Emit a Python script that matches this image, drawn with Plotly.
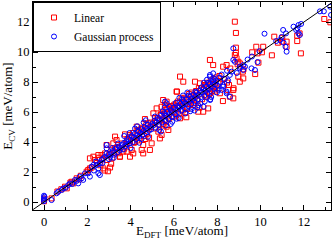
import plotly.graph_objects as go

# ---- data (E_DFT, E_CV) in meV/atom ----
lin_low = [(0.00,0.05),(0.02,0.22),(0.35,0.24),(0.62,0.70),(0.80,0.85),(0.97,1.02),(1.05,0.91),(1.22,1.30),
           (1.28,1.35),(1.35,1.24),(1.51,1.58),(1.62,1.50),(1.70,1.75),(1.97,2.02),(2.04,2.13),(2.12,2.24)]
lin_2_35 = [(2.12,2.91),(2.28,3.02),(2.35,2.80),(2.51,3.13),(2.66,3.13),(2.82,3.24),(2.89,3.80),(2.20,2.30),
            (2.45,2.60),(2.60,2.45),(2.74,2.24),(2.80,2.10),(2.95,2.05),(3.05,2.30),(3.10,2.55),(3.20,3.91),
            (3.28,3.58),(3.35,4.13),(3.28,4.36),(3.40,3.60),(3.02,3.20),(3.15,2.95),(2.90,2.80),(3.25,3.30),
            (3.45,3.25),(2.55,2.95),(2.70,2.85),(3.50,3.02),(3.38,3.66),(3.12,3.45)]
lin_35_5 = [(3.51,3.02),(3.66,3.36),(3.74,4.51),(3.82,3.36),(3.97,3.02),(4.05,3.47),(4.12,3.24),(4.28,4.47),
            (4.28,5.02),(4.51,3.47),(4.58,3.80),(4.58,3.24),(4.66,5.53),(4.89,3.47),(4.97,3.91),(3.60,3.90),
            (3.70,3.55),(3.85,4.20),(3.90,4.05),(4.00,4.35),(4.10,4.60),(4.20,4.00),(4.35,4.80),(4.40,4.25),
            (4.45,4.70),(4.55,4.95),(4.62,4.40),(4.70,5.10),(4.75,4.55),(4.80,5.25),(4.85,4.30),(4.92,5.00),
            (3.95,4.47),(4.15,3.95),(4.30,4.10),(4.48,4.85),(4.68,4.20),(4.78,4.90),(4.95,5.30),(3.78,3.85)]
lin_5_8 = [(5.05,5.91),(5.20,6.24),(5.28,4.69),(5.35,4.24),(5.43,4.47),(5.43,6.35),(5.50,6.80),(5.58,5.47),
           (5.58,6.47),(5.66,6.69),(5.66,5.02),(5.74,4.80),(5.97,5.69),(6.12,7.36),(6.14,7.36),(6.28,5.58),
           (6.28,8.36),(6.43,8.02),(6.52,5.95),(6.57,5.65),(6.66,6.80),(6.89,6.47),(6.97,8.02),(7.12,6.02),
           (7.18,6.29),(7.20,7.91),(7.35,6.02),(7.50,7.02),(7.58,6.24),(7.66,7.25),
           (5.10,5.30),(5.15,4.90),(5.25,5.60),(5.32,5.15),(5.40,5.85),(5.48,5.20),(5.55,5.95),(5.62,5.40),
           (5.70,6.20),(5.78,5.55),(5.85,6.40),(5.90,5.70),(5.95,6.25),(6.02,6.50),(6.08,5.90),(6.18,6.70),
           (6.22,5.85),(6.35,6.90),(6.40,6.10),(6.48,6.95),(6.60,6.30),(6.70,7.20),(6.75,6.50),(6.82,7.30),
           (6.92,6.60),(7.02,7.40),(7.08,6.75),(7.25,7.60),(7.30,6.85),(7.40,7.80),
           (7.45,7.10),(7.55,7.95),(7.62,7.20),(7.70,8.10),(7.75,7.40),(7.82,8.20),(7.88,7.50),(7.95,8.30),
           (5.12,5.60),(5.38,5.80),(5.52,5.10),(5.80,6.00),(6.05,6.20),(6.25,6.40),(6.55,6.85),(6.78,7.05),
           (7.05,7.15),(7.38,7.55),(7.68,7.85),(7.92,7.70),(5.22,5.45),(5.68,5.90),(6.15,6.60),(6.62,6.20),
           (7.15,7.60),(7.48,7.75),(6.38,6.65),(5.88,6.30),(6.95,6.90),(7.78,7.65)]
lin_8_10 = [(7.66,9.47),(7.81,9.13),(8.27,9.02),(8.43,9.13),(8.81,9.80),(8.89,9.58),(8.97,9.35),(9.04,9.24),
            (8.97,8.36),(9.20,8.24),(9.04,8.02),(8.50,7.47),(8.74,7.47),(8.58,7.02),(8.74,6.91),(7.89,7.36),
            (8.12,7.25),(8.26,6.73),(8.75,7.58),(8.45,7.96),(8.54,7.80),(8.86,10.29),(8.86,9.95),(8.94,9.18),
            (9.21,8.85),(9.18,8.69),(8.10,8.40),(8.30,8.20),(8.60,8.90),(8.05,7.90)]
lin_high = [(8.81,12.02),(8.86,11.27),(12.94,12.20),(13.22,11.98),(11.86,9.91),(10.52,9.78),(11.20,10.35),
            (11.20,10.69),(11.69,11.09),(11.80,11.24),(11.00,10.95),(11.00,10.69),(10.63,11.02),(10.80,10.62),
            (9.80,10.35),(9.90,9.29),(9.86,9.91),(9.61,9.98),(9.75,8.53),(10.12,10.35),(10.06,9.98),(11.69,10.73)]

gp_low = [(0.00,0.05),(0.00,0.15),(0.00,0.25),(0.02,0.35),(0.00,0.42),(0.35,0.13),(0.58,0.58),(0.66,0.69),
          (0.82,0.80),(0.89,0.91),(1.12,1.13),(1.20,1.24),(1.43,1.47),(1.58,1.24),(1.74,1.58),(1.81,1.47),
          (1.89,1.91),(2.04,1.91),(1.00,0.95),(1.50,1.40),(1.65,1.70),(1.30,1.20)]
gp_2_35 = [(2.20,2.35),(2.28,2.47),(2.43,2.47),(2.51,2.24),(2.58,2.58),(2.66,2.80),(2.74,2.91),(2.82,3.02),
           (2.89,3.24),(2.97,3.13),(2.51,1.91),(2.58,1.80),(2.12,1.69),(2.30,2.10),(2.89,3.80),(2.89,3.58),
           (3.05,3.00),(3.10,3.25),(3.18,3.40),(3.25,3.15),(3.30,3.55),(3.38,3.30),(3.45,3.70),(3.50,3.45),
           (3.00,2.85),(2.70,2.60),(3.15,3.60),(3.42,3.90),(2.40,2.70),(3.22,2.95)]
gp_35_5 = [(3.55,3.60),(3.60,3.80),(3.65,3.50),(3.70,3.95),(3.75,3.70),(3.80,4.05),(3.85,3.85),(3.90,4.20),
           (3.95,3.90),(4.00,4.15),(4.05,4.40),(4.10,4.00),(4.15,4.30),(4.20,4.55),(4.25,4.20),(4.30,4.45),
           (4.35,4.70),(4.40,4.35),(4.45,4.60),(4.50,4.85),(4.55,4.45),(4.60,4.75),(4.65,5.00),(4.70,4.60),
           (4.75,4.90),(4.80,5.15),(4.85,4.75),(4.90,5.05),(4.95,4.85),(5.00,5.20),(3.70,4.40),(4.00,3.60),
           (4.20,4.90),(4.40,3.95),(4.60,5.30),(4.80,4.35),(3.95,4.60),(4.50,4.20),(4.30,5.05),(4.70,5.45)]
gp_5_8 = [(5.05,5.10),(5.10,5.40),(5.15,4.95),(5.20,5.30),(5.25,5.60),(5.30,5.15),(5.35,5.45),(5.40,5.75),
          (5.45,5.30),(5.50,5.60),(5.55,5.90),(5.60,5.45),(5.65,5.75),(5.70,6.00),(5.75,5.55),(5.80,5.85),
          (5.85,6.15),(5.90,5.70),(5.95,6.00),(6.00,6.30),(6.05,5.85),(6.10,6.15),(6.15,6.40),(6.20,6.00),
          (6.25,6.30),(6.30,6.55),(6.35,6.10),(6.40,6.45),(6.45,6.70),(6.50,6.25),(6.55,6.55),(6.60,6.85),
          (6.65,6.40),(6.70,6.70),(6.75,7.00),(6.80,6.55),(6.85,6.85),(6.90,7.15),(6.95,6.70),(7.00,7.00),
          (7.05,7.30),(7.10,6.85),(7.15,7.15),(7.20,7.45),(7.25,7.00),(7.30,7.30),(7.35,7.55),(7.40,7.10),
          (7.45,7.40),(7.50,7.70),(7.55,7.25),(7.60,7.55),(7.65,7.85),(7.70,7.40),(7.75,7.70),(7.80,8.00),
          (7.85,7.55),(7.90,7.85),(7.95,8.10),(8.00,7.75),
          (5.12,5.70),(5.32,4.80),(5.48,6.05),(5.62,5.10),(5.78,6.35),(5.92,5.35),(6.08,6.60),(6.22,5.60),
          (6.38,6.85),(6.52,5.90),(6.68,7.10),(6.82,6.20),(6.98,7.35),(7.12,6.45),(7.28,7.65),(7.42,6.70),
          (7.58,7.95),(7.72,7.00),(7.88,8.20),(7.98,7.30),(5.58,6.30),(6.12,5.55),(6.62,7.30),(7.08,6.30),
          (7.52,8.15),(7.68,6.85),(5.85,5.20),(6.42,7.10),(6.95,6.10),(7.38,7.95),(5.58,6.69),(5.66,6.58),
          (7.66,8.47),(7.81,8.13),(7.67,6.80),(7.21,6.58),(7.37,6.35),(5.40,4.70),(6.25,6.95),(6.75,6.05)]
gp_8_10 = [(8.74,10.24),(8.74,9.47),(8.81,9.35),(9.04,8.91),(9.20,8.80),(9.28,9.02),(8.27,7.80),(8.20,7.47),
           (8.43,7.25),(8.58,7.02),(7.66,8.36),(7.81,8.58),(8.58,8.47),(8.66,8.69),(9.86,9.33),(9.58,8.91),
           (9.74,8.80),(9.04,9.02),(9.20,9.13),(8.10,8.30),(8.20,8.50),(8.35,8.20),(8.45,8.75),(8.90,8.60),
           (8.15,8.00),(8.50,8.10),(9.40,9.50),(9.60,9.70),(9.95,10.05),(8.27,7.69),(8.43,7.36),(8.06,7.47)]
gp_high = [(12.74,12.71),(12.92,12.71),(13.21,13.02),(13.25,12.47),(10.18,11.22),(11.04,11.47),(11.52,11.69),
           (11.75,11.80),(11.87,11.87),(11.70,11.58),(11.64,11.47),(11.17,11.24),(10.90,10.80),(10.72,10.73),
           (11.06,10.62),(11.15,10.35),(11.20,10.02),(11.75,11.24),(11.81,11.13),(10.97,11.00)]

parity = [-0.5, 13.4]

lin = lin_low + lin_2_35 + lin_35_5 + lin_5_8 + lin_8_10 + lin_high
gp = gp_low + gp_2_35 + gp_35_5 + gp_5_8 + gp_8_10 + gp_high

FONT = "Liberation Serif, Times New Roman, serif"

fig = go.Figure()
fig.add_trace(go.Scatter(x=[p[0] for p in lin], y=[p[1] for p in lin], mode="markers", name="Linear",
                         marker=dict(symbol="square-open", size=5, color="#ff0000", line=dict(width=1))))
fig.add_trace(go.Scatter(x=[p[0] for p in gp], y=[p[1] for p in gp], mode="markers", name="Gaussian process",
                         marker=dict(symbol="circle-open", size=5, color="#0000ff", line=dict(width=1))))
fig.add_trace(go.Scatter(x=parity, y=parity, mode="lines", showlegend=False,
                         line=dict(color="black", width=1)))

axis_common = dict(showline=True, linecolor="black", linewidth=1, mirror="allticks",
                   ticks="inside", ticklen=5, tickwidth=1, tickcolor="black",
                   showgrid=False, zeroline=False, dtick=2,
                   tickfont=dict(family=FONT, size=12.5, color="black"),
                   minor=dict(ticks="inside", ticklen=3, dtick=1, tickcolor="black", showgrid=False))

fig.update_xaxes(range=[-0.508, 13.25], tick0=0,
                 title=dict(text="E<sub>DFT</sub> [meV/atom]", font=dict(family=FONT, size=13, color="black"),
                            standoff=4), **axis_common)
fig.update_yaxes(range=[-0.533, 13.333], tick0=0,
                 title=dict(text="E<sub>CV</sub> [meV/atom]", font=dict(family=FONT, size=13, color="black"),
                            standoff=2), **axis_common)

fig.update_layout(width=334, height=240, margin=dict(l=33, r=3, t=2, b=30, autoexpand=False),
                  paper_bgcolor="white", plot_bgcolor="white",
                  legend=dict(x=0, y=1, xanchor="left", yanchor="top", bgcolor="white",
                              bordercolor="black", borderwidth=1, tracegroupgap=0,
                              font=dict(family=FONT, size=11.5, color="black"), itemwidth=30))

fig.write_html("out.html", config={"displayModeBar": False},
               post_script="document.body.style.margin='0';document.body.style.overflow='hidden';")
